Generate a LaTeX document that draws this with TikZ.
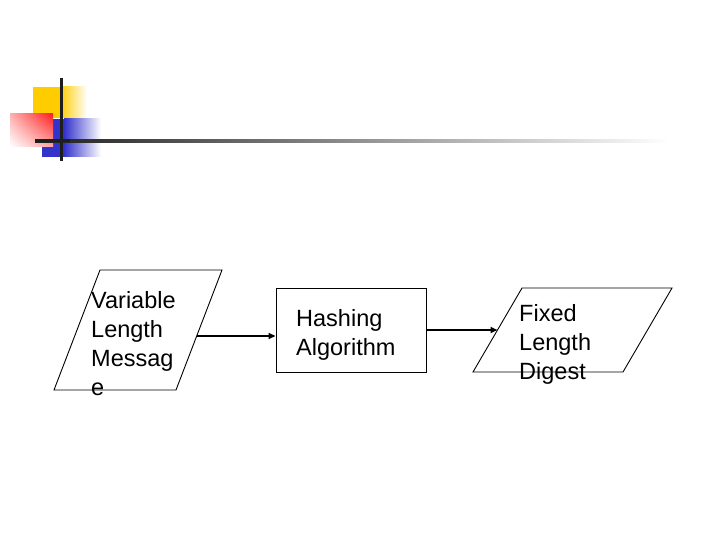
\documentclass[tikz,border=0pt]{standalone}
\usepackage{fontspec}
\setmainfont{Liberation Sans}
\usetikzlibrary{arrows.meta,calc,shadings}
\definecolor{yel}{RGB}{255,204,0}
\definecolor{blu}{RGB}{51,51,204}
\definecolor{redc}{RGB}{255,30,30}
\definecolor{dk}{RGB}{30,30,30}
\begin{document}
\begin{tikzpicture}[x=1pt,y=-1pt,
  shapeline/.style={draw=black,line width=0.9pt},
  conn/.style={draw=black,line width=1.7pt,-{Triangle[length=7pt,width=6pt]}},
  lbl/.style={font=\fontsize{23.5}{29}\selectfont,align=left,inner sep=0pt,anchor=base west}]
\useasboundingbox (0,0) rectangle (720,540);
% decoration
\fill[yel] (33,87) rectangle (60,118);
\shade[left color=yel,right color=white] (60,87) rectangle (87,118);
\fill[blu] (42,119) rectangle (64,157);
\shade[left color=blu,right color=white] (64,119) rectangle (101,157);
\shade[upper right=redc,upper left=redc!35!white,lower left=white,lower right=redc!40!white] (10,114) rectangle (53,147);
\shade[left color=dk,right color=white] (35,139.5) rectangle (670,142.5);
\fill[dk] (35,139.5) rectangle (70,142.5);
\fill[dk] (59.5,78) rectangle (62.5,161);
% shapes
\coordinate (m1) at (100,270); \coordinate (m2) at (222,270);
\coordinate (m3) at (176,390); \coordinate (m4) at (54,390);
\draw[shapeline] (m1) -- (m2) -- (m3) -- (m4) -- cycle;
\node[lbl] (msg) at (91,395.5) {Variable\\Length\\Messag\\e};
\node[shapeline,minimum width=150pt,minimum height=84pt,inner sep=0pt] (hash) at (351,330) {};
\node[lbl] (hashtxt) at (296,355.5) {Hashing\\Algorithm};
\coordinate (d1) at (522,288); \coordinate (d2) at (672,288);
\coordinate (d3) at (623,372); \coordinate (d4) at (473,372);
\draw[shapeline] (d1) -- (d2) -- (d3) -- (d4) -- cycle;
\node[lbl] (dig) at (519,379.5) {Fixed\\Length\\Digest};
% connectors
\coordinate (msgR) at ($(m2)!0.55!(m3)$);
\coordinate (digL) at ($(d1)!0.5!(d4)$);
\draw[conn] (msgR) -- (msgR -| hash.west);
\draw[conn] (hash.east) -- (digL);
\end{tikzpicture}
\end{document}
